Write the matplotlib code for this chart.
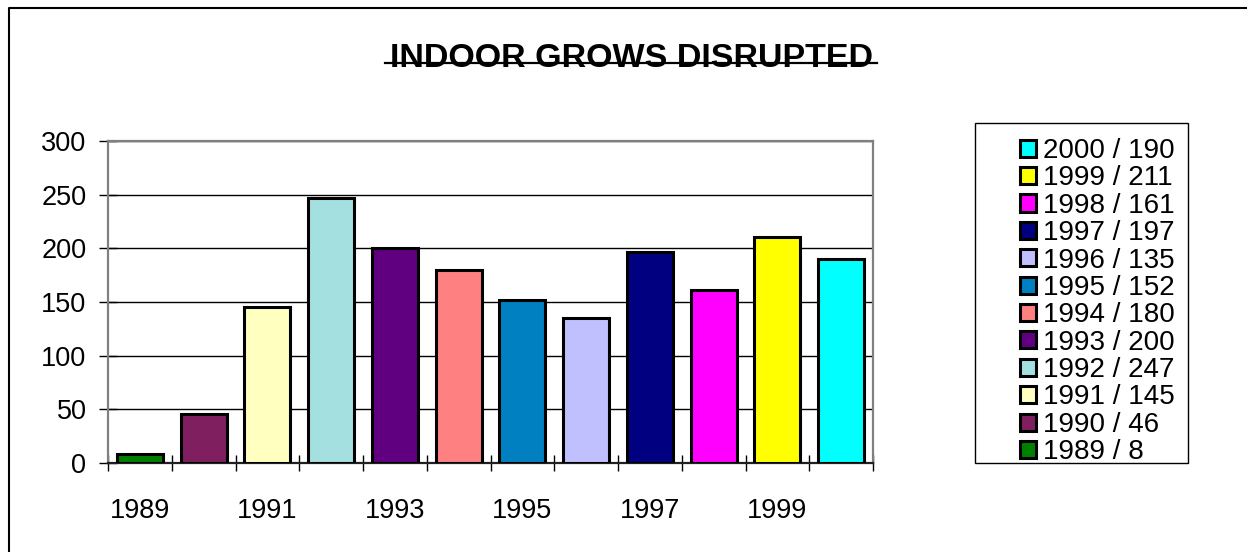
import matplotlib.pyplot as plt
from matplotlib.lines import Line2D
from matplotlib.patches import Rectangle, Patch
import numpy as np

plt.rcParams["font.family"] = ["Liberation Sans", "DejaVu Sans"]

years = [1989, 1990, 1991, 1992, 1993, 1994, 1995, 1996, 1997, 1998, 1999, 2000]
counts = [8, 46, 145, 247, 200, 180, 152, 135, 197, 161, 211, 190]
colors = ["#008000", "#7F1F5F", "#FFFFC0", "#A4E0E0", "#600080", "#FF8080",
          "#0080C0", "#C0C0FF", "#000080", "#FF00FF", "#FFFF00", "#00FFFF"]
y_ticks = [0, 50, 100, 150, 200, 250, 300]
title = "INDOOR GROWS DISRUPTED"

fig = plt.figure(figsize=(12.47, 5.52), dpi=100)
ax = fig.add_axes([108 / 1247, 89 / 552, 765 / 1247, 322 / 552])

x = np.arange(len(years))
ax.bar(x, counts, width=0.72, color=colors, edgecolor="black", linewidth=2.2, zorder=3)

ax.set_xlim(-0.5, len(years) - 0.5)
ax.set_ylim(0, 300)
ax.set_yticks(y_ticks)
ax.yaxis.grid(True, color="black", linewidth=1.0, zorder=0)
ax.set_axisbelow(True)

ax.set_xticks(x[::2])
ax.set_xticklabels([str(y) for y in years[::2]])
ax.set_xticks(np.arange(-0.5, len(years)), minor=True)
ax.tick_params(axis="x", which="major", length=0, pad=25, labelsize=19.5)
ax.tick_params(axis="x", which="minor", direction="inout", length=12, width=1.0)
ax.tick_params(axis="y", direction="inout", length=13, width=1.0, pad=9, labelsize=19.5)

for side in ["left", "top", "right"]:
    ax.spines[side].set_color("#808080")
    ax.spines[side].set_linewidth(1.6)
ax.spines["bottom"].set_color("#202020")
ax.spines["bottom"].set_linewidth(1.6)

# title with the line running through its lower part
fig.text(631 / 1247, 1 - 67 / 552, title, ha="center", va="baseline",
         fontsize=24.5, fontweight="bold")
fig.add_artist(Line2D([385 / 1247, 877 / 1247], [1 - 63 / 552, 1 - 63 / 552],
                      color="black", linewidth=1.6, transform=fig.transFigure))

# outer border (top and left only visible)
fig.add_artist(Line2D([9 / 1247, 9 / 1247, 1], [0, 1 - 8 / 552, 1 - 8 / 552],
                      color="black", linewidth=1.5, transform=fig.transFigure))

# legend box
fig.add_artist(Rectangle((975 / 1247, 89 / 552), 213 / 1247, 340 / 552,
                         fill=False, edgecolor="black", linewidth=1.0,
                         transform=fig.transFigure))
handles = [Patch(facecolor=c, edgecolor="black", linewidth=2.2) for c in colors]
labels = [f"{y} / {v}" for y, v in zip(years, counts)]
fig.legend(handles[::-1], labels[::-1], loc="upper left",
           bbox_to_anchor=(1020 / 1247, 1 - 138 / 552), frameon=False,
           fontsize=20, handlelength=0.57, handleheight=0.57, handletextpad=0.25,
           labelspacing=0.05, borderpad=0, borderaxespad=0)

fig.savefig("out.png", dpi=100)
